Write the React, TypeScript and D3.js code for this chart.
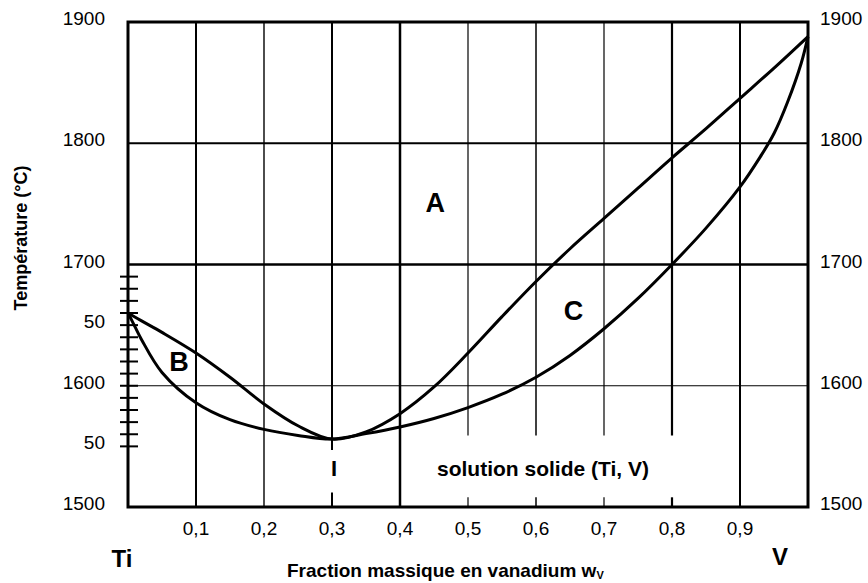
import React from "react";
import * as d3 from "d3";

// ---- data ----
const liquidusW = [0, 0.02, 0.05, 0.1, 0.15, 0.2, 0.25, 0.3, 0.35, 0.4, 0.45, 0.5, 0.55, 0.6, 0.65, 0.7, 0.75, 0.8, 0.85, 0.9, 0.95, 1.0];
const liquidusT = [1660, 1653.5, 1644, 1627, 1607, 1585, 1567, 1556, 1562, 1577, 1599, 1627, 1657, 1686, 1713, 1738, 1763, 1788, 1812, 1837, 1862, 1888];
const solidusW = [0, 0.01, 0.02, 0.05, 0.1, 0.15, 0.2, 0.25, 0.3, 0.35, 0.4, 0.45, 0.5, 0.55, 0.6, 0.65, 0.7, 0.75, 0.8, 0.85, 0.9, 0.93, 0.95, 0.97, 0.99, 1.0];
const solidusT = [1660, 1649, 1638, 1611, 1586, 1572, 1564, 1559, 1556, 1560.5, 1566, 1573, 1582, 1593, 1607, 1625, 1647, 1672, 1700, 1730, 1764, 1789, 1808, 1834, 1866, 1888];

const xTicks = [0.1, 0.2, 0.3, 0.4, 0.5, 0.6, 0.7, 0.8, 0.9];
const xTickLabels = ["0,1", "0,2", "0,3", "0,4", "0,5", "0,6", "0,7", "0,8", "0,9"];
const yGrid = [1600, 1700, 1800];
const yLeftTicks = [1900, 1800, 1700, 1650, 1600, 1550, 1500];
const yLeftLabels = ["1900", "1800", "1700", "50", "1600", "50", "1500"];
const yRightTicks = [1900, 1800, 1700, 1600, 1500];
const yRightLabels = ["1900", "1800", "1700", "1600", "1500"];
const minorTicks = [1550, 1560, 1570, 1580, 1590, 1600, 1610, 1620, 1630, 1640, 1650, 1660, 1670, 1680, 1690];

const regionLabels = ["A", "B", "C"];
const regionW = [0.452, 0.075, 0.655];
const regionT = [1751, 1620, 1662];

const FONT = "'Liberation Sans', Arial, sans-serif";

export default function App() {
  const W = 868, H = 583;
  const x = d3.scaleLinear().domain([0, 1]).range([128, 808]);
  const y = d3.scaleLinear().domain([1500, 1900]).range([507, 22]);

  const liq = liquidusW.map((w, i) => [w, liquidusT[i]] as [number, number]);
  const sol = solidusW.map((w, i) => [w, solidusT[i]] as [number, number]);
  const line = d3.line<[number, number]>().x(d => x(d[0])).y(d => y(d[1])).curve(d3.curveCatmullRom.alpha(0.5));

  const vWidth = [2, 1.4, 2, 2.5, 1.2, 1.5, 1.2, 2.2, 2];
  const hWidth: Record<number, number> = { 1600: 1.2, 1700: 2.5, 1800: 2 };

  // vertical grid segments (some interrupted by labels)
  const vSegments = (w: number): [number, number][] => {
    if (w === 0.3) return [[1900, 1547], [1512, 1500]];
    if (w >= 0.45 && w <= 0.85) return [[1900, 1559], [1508, 1500]];
    return [[1900, 1500]];
  };

  return (
    <svg width={W} height={H} style={{ position: "absolute", left: 0, top: 0, background: "#fff" }} fontFamily={FONT}>
      <rect x={0} y={0} width={W} height={H} fill="#fff" />
      {/* horizontal grid */}
      {yGrid.map(t => (
        <line key={"h" + t} x1={x(0)} x2={x(1)} y1={y(t)} y2={y(t)} stroke="#000" strokeWidth={hWidth[t]} />
      ))}
      {/* vertical grid */}
      {xTicks.map((w, i) =>
        vSegments(w).map((s, j) => (
          <line key={"v" + i + "-" + j} x1={x(w)} x2={x(w)} y1={y(s[0])} y2={y(s[1])} stroke="#000" strokeWidth={vWidth[i]} />
        ))
      )}
      {/* minor ticks */}
      {minorTicks.map(t => (
        <line key={"m" + t} x1={x(0) - 8} x2={x(0) + 10} y1={y(t)} y2={y(t)} stroke="#000" strokeWidth={2} />
      ))}
      {/* frame */}
      <rect x={x(0)} y={y(1900)} width={x(1) - x(0)} height={y(1500) - y(1900)} fill="none" stroke="#000" strokeWidth={3} />
      {/* curves */}
      <path d={line(liq) || ""} fill="none" stroke="#000" strokeWidth={3} strokeLinejoin="round" />
      <path d={line(sol) || ""} fill="none" stroke="#000" strokeWidth={3} strokeLinejoin="round" />
      {/* left labels */}
      {yLeftTicks.map((t, i) => (
        <text key={"l" + t} x={105} y={y(t) - 2} textAnchor="end" dominantBaseline="middle" fontSize={19}>{yLeftLabels[i]}</text>
      ))}
      {/* right labels */}
      {yRightTicks.map((t, i) => (
        <text key={"r" + t} x={820} y={y(t) - 2} textAnchor="start" dominantBaseline="middle" fontSize={19}>{yRightLabels[i]}</text>
      ))}
      {/* x tick labels */}
      {xTicks.map((w, i) => (
        <text key={"xt" + i} x={x(w)} y={530} textAnchor="middle" dominantBaseline="middle" fontSize={19}>{xTickLabels[i]}</text>
      ))}
      {/* region labels */}
      {regionLabels.map((l, i) => (
        <text key={"rg" + l} x={x(regionW[i])} y={y(regionT[i])} textAnchor="middle" dominantBaseline="central" fontSize={27} fontWeight="bold">{l}</text>
      ))}
      <text x={x(0.303)} y={y(1532)} textAnchor="middle" dominantBaseline="central" fontSize={22} fontWeight="bold">I</text>
      <text x={543} y={y(1532)} textAnchor="middle" dominantBaseline="central" fontSize={21} fontWeight="bold">solution solide (Ti, V)</text>
      {/* end labels */}
      <text x={122} y={558} textAnchor="middle" dominantBaseline="central" fontSize={24} fontWeight="bold">Ti</text>
      <text x={780} y={556} textAnchor="middle" dominantBaseline="central" fontSize={24} fontWeight="bold">V</text>
      {/* axis titles */}
      <text x={287} y={577} fontSize={19} fontWeight="bold">
        Fraction massique en vanadium w<tspan fontSize={11} dy={2}>V</tspan>
      </text>
      <text transform="translate(21,238) rotate(-90)" textAnchor="middle" dominantBaseline="central" fontSize={18} fontWeight="bold">Température (°C)</text>
    </svg>
  );
}
